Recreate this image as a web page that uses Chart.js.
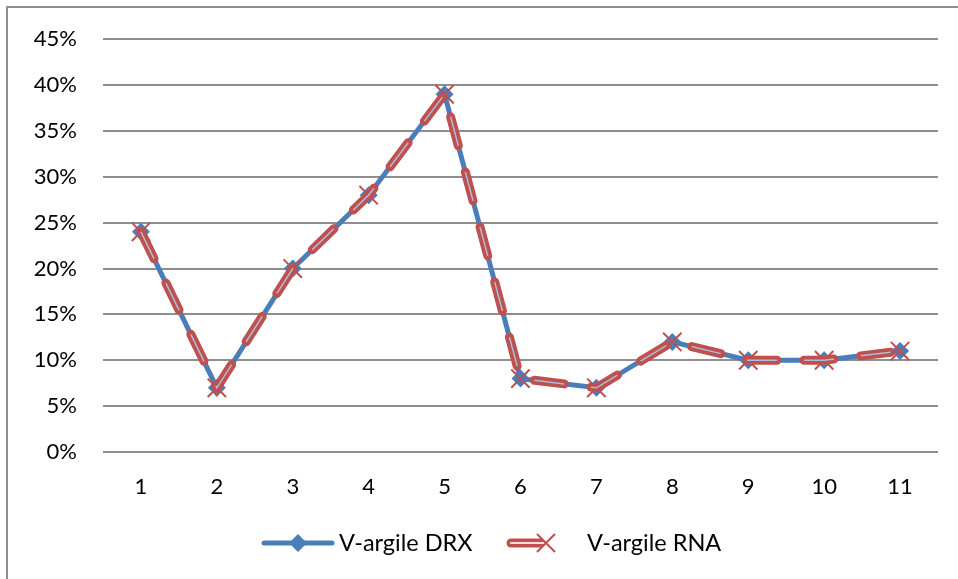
<!DOCTYPE html>
<html>
<head>
<meta charset="utf-8">
<script src="https://cdn.jsdelivr.net/npm/chart.js@4"></script>
<style>
  html, body { margin: 0; padding: 0; background: #fff; overflow: hidden; }
  #wrap { position: relative; width: 958px; height: 579px; }
  #frame { position: absolute; left: 6px; top: 6px; width: 980px; height: 600px; border: 2px solid #8e8e8e; box-sizing: border-box; }
  canvas { position: absolute; left: 0; top: 0; }
</style>
</head>
<body>
<div id="wrap">
  <div id="frame"></div>
  <canvas id="myChart" width="958" height="579"></canvas>
</div>
<script>
// data
const categories = ['1', '2', '3', '4', '5', '6', '7', '8', '9', '10', '11'];
const drx = [24, 7, 20, 28, 39, 8, 7, 12, 10, 10, 11];
const rna = [24, 7, 20, 28, 39, 8, 7, 12, 10, 10, 11];
const yTicks = [0, 5, 10, 15, 20, 25, 30, 35, 40, 45];

const FONT = 'Lato, "Open Sans", sans-serif';
const BLUE = '#4a7ebb';
const RED = '#c0504d';

// legend drawn by hand, Excel style
const legendPlugin = {
    id: 'excelLegend',
    afterDraw(chart) {
        const c = chart.ctx;
        const y = 543;
        c.save();
        // blue line + diamond
        c.strokeStyle = BLUE;
        c.lineWidth = 5;
        c.lineCap = 'round';
        c.beginPath(); c.moveTo(264, y); c.lineTo(332, y); c.stroke();
        c.fillStyle = BLUE;
        c.beginPath();
        c.moveTo(298, y - 9); c.lineTo(307, y); c.lineTo(298, y + 9); c.lineTo(289, y);
        c.closePath(); c.fill();
        // red double line + cross
        c.strokeStyle = RED;
        c.lineWidth = 9;
        c.beginPath(); c.moveTo(511, y); c.lineTo(540, y); c.stroke();
        c.strokeStyle = '#f4dede';
        c.lineWidth = 2;
        c.beginPath(); c.moveTo(511, y); c.lineTo(544, y); c.stroke();
        c.strokeStyle = RED;
        c.lineWidth = 2;
        c.lineCap = 'butt';
        c.beginPath();
        c.moveTo(537, y - 9); c.lineTo(555, y + 9);
        c.moveTo(537, y + 9); c.lineTo(555, y - 9);
        c.stroke();
        // texts
        c.fillStyle = '#000';
        c.font = '23.5px ' + FONT;
        c.textBaseline = 'middle';
        c.fillText('V-argile DRX', 339, y);
        c.fillText('V-argile RNA', 587, y);
        c.restore();
    }
};

const ctx = document.getElementById('myChart').getContext('2d');
const chart = new Chart(ctx, {
    type: 'line',
    data: {
        labels: categories,
        datasets: [
            {
                label: 'V-argile DRX',
                data: drx,
                order: 3,
                borderColor: BLUE,
                backgroundColor: BLUE,
                borderWidth: 5,
                pointStyle: 'rectRot',
                pointRadius: 9,
                pointBorderWidth: 0,
                tension: 0
            },
            {
                label: 'V-argile RNA',
                data: rna,
                order: 2,
                borderColor: RED,
                backgroundColor: RED,
                borderWidth: 9,
                borderDash: [30, 27],
                borderCapStyle: 'round',
                pointStyle: 'crossRot',
                pointRadius: 13,
                pointBorderWidth: 2,
                tension: 0
            },
            {
                label: 'inner',
                data: rna,
                order: 1,
                borderColor: 'rgba(170,200,240,0.9)',
                borderWidth: 1.5,
                borderDash: [30, 27],
                borderCapStyle: 'butt',
                pointRadius: 0,
                tension: 0
            }
        ]
    },
    options: {
        responsive: false,
        animation: false,
        layout: { padding: { top: 36, right: 20, bottom: 62, left: 0 } },
        plugins: {
            legend: { display: false },
            tooltip: { enabled: false }
        },
        scales: {
            x: {
                offset: true,
                grid: { display: false, drawTicks: false },
                border: { display: false },
                ticks: { color: '#000', font: { family: FONT, size: 22 }, padding: 22 },
                afterFit(scale) { scale.height = 65; }
            },
            y: {
                min: 0,
                max: 45,
                afterBuildTicks(scale) { scale.ticks = yTicks.map(v => ({ value: v })); },
                grid: { color: '#8e8e8e', lineWidth: 2, drawTicks: false },
                border: { display: false },
                ticks: {
                    color: '#000',
                    font: { family: FONT, size: 22 },
                    padding: 26,
                    callback: v => v + '%'
                },
                afterFit(scale) { scale.width = 103; }
            }
        }
    },
    plugins: [legendPlugin]
});
</script>
</body>
</html>
